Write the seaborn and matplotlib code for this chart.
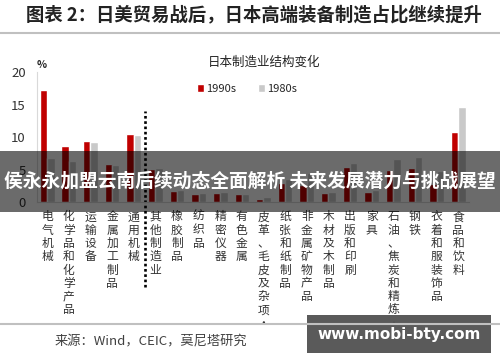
import pandas as pd
import matplotlib.pyplot as plt
import seaborn as sns
from matplotlib.patches import Rectangle

# 行业（x 轴类别）
categories = ['电气机械', '化学品和化学产品', '运输设备', '金属加工制品', '通用机械',
              '其他制造业', '橡胶制品', '纺织品', '精密仪器', '有色金属',
              '皮革、毛皮及杂项·', '纸张和纸制品', '非金属矿物产品', '木材及木制品', '出版和印刷',
              '家具', '石油、焦炭和精炼·', '钢铁', '衣着和服装饰品', '食品和饮料']

# 占比 (%)，从图上读出的估计值
share_1990s = [17.3, 8.6, 9.4, 5.85, 10.45, 5.1, 1.7, 1.2, 1.4, 1.2,
               0.5, 2.9, 2.6, 1.4, 5.4, 1.6, 5.0, 5.3, 2.8, 10.7]
share_1980s = [6.7, 6.35, 9.2, 5.7, 10.3, 5.3, 1.9, 1.4, 1.6, 1.3,
               0.8, 3.5, 4.4, 1.6, 6.0, 1.8, 6.6, 7.0, 4.7, 14.6]
periods = ['1990s', '1980s']
y_ticks = [0, 5, 10, 15, 20]

RED = '#C00000'
GRAY = '#C9C9C9'

df = pd.DataFrame({
    '行业': categories * 2,
    '占比': share_1990s + share_1980s,
    '时期': [periods[0]] * len(categories) + [periods[1]] * len(categories),
})

sns.set_style("white")
plt.rcParams['font.family'] = ['Noto Sans CJK SC', 'DejaVu Sans']

fig = plt.figure(figsize=(5, 3.62), dpi=100)
ax = fig.add_axes([0.074, 0.442, 0.864, 0.359])

sns.barplot(data=df, x='行业', y='占比', hue='时期', hue_order=periods,
            palette=[RED, GRAY], width=0.68, saturation=1, ax=ax)

ax.set_xlim(-0.47, 19.5)
ax.set_ylim(0, 20)
ax.set_yticks(y_ticks)
ax.set_xlabel('')
ax.set_ylabel('')
for s in ['top', 'right']:
    ax.spines[s].set_visible(False)
for s in ['left', 'bottom']:
    ax.spines[s].set_color('#d9d9d9')
    ax.spines[s].set_linewidth(0.8)
ax.tick_params(axis='y', length=3, color='#d9d9d9', labelsize=9.5, pad=5, labelcolor='#333333')
ax.set_xticks(range(len(categories)))
ax.set_xticklabels(['\n'.join(c) for c in categories], fontsize=8.5,
                   linespacing=1.03, va='top', color='#333333')
ax.tick_params(axis='x', length=0, pad=6)

# 高端 / 其他 分隔虚线
ax.vlines(4.5, -13.1, 14, colors='black', linestyles=(0, (1, 1)),
          linewidth=1.9, clip_on=False)

h, l = ax.get_legend_handles_labels()
ax.legend(h, l, ncol=2, frameon=False, fontsize=8, loc='center',
          bbox_to_anchor=(0.494, 0.754), bbox_transform=fig.transFigure,
          handlelength=0.6, handleheight=0.7, handletextpad=0.2, columnspacing=2.0)

ax.text(0.0, 1.03, '%', transform=ax.transAxes, fontsize=7.5, fontweight='bold', ha='left')
fig.text(0.528, 0.828, '日本制造业结构变化', fontsize=9, ha='center', va='center', color='#222222')

# 顶部标题和分隔线
fig.text(0.508, 0.958, '图表 2：日美贸易战后，日本高端装备制造占比继续提升',
         fontsize=13.2, fontweight='bold', ha='center', va='center', color='#222222')
fig.add_artist(plt.Line2D([0, 1], [0.909, 0.909], transform=fig.transFigure,
                          color='#c0c0c0', linewidth=1.5))
fig.add_artist(plt.Line2D([0, 1], [0.105, 0.105], transform=fig.transFigure,
                          color='#c0c0c0', linewidth=1.5))
fig.text(0.11, 0.055, '来源：Wind，CEIC，莫尼塔研究', fontsize=9.5, ha='left',
         va='center', color='#404040')

# 水印
fig.add_artist(Rectangle((0, 0.414), 1, 0.169, transform=fig.transFigure,
                         facecolor='black', alpha=0.58, edgecolor='none'))
fig.text(0.5, 0.5, '侯永永加盟云南后续动态全面解析 未来发展潜力与挑战展望',
         fontsize=13.5, fontweight='bold', color='white', ha='center', va='center')
fig.add_artist(Rectangle((0.614, 0.025), 0.368, 0.105, transform=fig.transFigure,
                         facecolor='#555555', alpha=0.97, edgecolor='none'))
fig.text(0.798, 0.077, 'www.mobi-bty.com', fontsize=11, fontweight='bold',
         color='white', ha='center', va='center', family='DejaVu Sans')

fig.savefig('out.png', dpi=100)
